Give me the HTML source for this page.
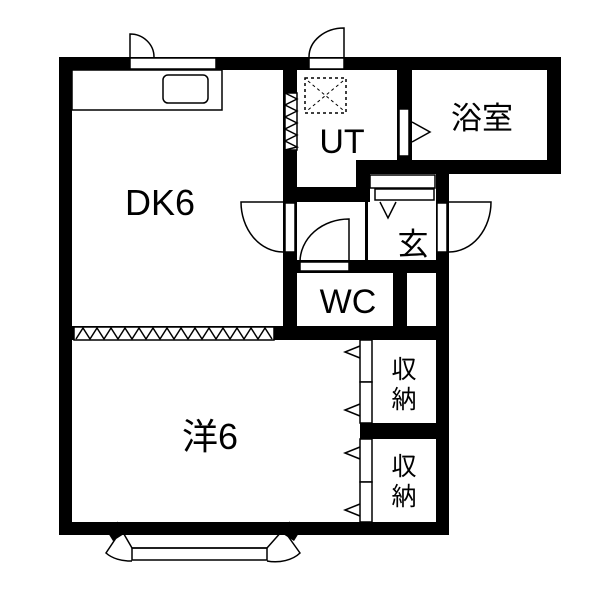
<!DOCTYPE html>
<html><head><meta charset="utf-8"><style>
html,body{margin:0;padding:0;background:#fff;}
svg{display:block;}
text{font-family:"Liberation Sans","Noto Sans CJK JP",sans-serif;fill:#000;}
</style></head><body>
<svg width="600" height="600" viewBox="0 0 600 600" xmlns="http://www.w3.org/2000/svg">
<rect width="600" height="600" fill="#fff"/>
<g fill="#000">
<rect x="59" y="57" width="502" height="13"/>
<rect x="59" y="57" width="13" height="478"/>
<rect x="59" y="522" width="390" height="13"/>
<rect x="436" y="160" width="13" height="375"/>
<rect x="547" y="57" width="14" height="117"/>
<rect x="356" y="160" width="205" height="14"/>
<rect x="356" y="160" width="14" height="42"/>
<rect x="283" y="57" width="14" height="283"/>
<rect x="397" y="57" width="15" height="103"/>
<rect x="283" y="187" width="87" height="15"/>
<rect x="283" y="260" width="166" height="13"/>
<rect x="393" y="260" width="14" height="80"/>
<rect x="72" y="326" width="377" height="14"/>
<rect x="360" y="423" width="89" height="16"/>
<rect x="365" y="202" width="3" height="58"/>
</g>
<g fill="#fff" stroke="#000" stroke-width="1.5">
<rect x="130" y="58" width="86" height="11"/>
<rect x="309" y="58" width="35" height="11"/>
<rect x="399" y="109" width="10" height="47"/>
<rect x="285" y="203" width="10" height="49"/>
<rect x="437" y="203" width="10" height="49"/>
<rect x="300" y="262" width="49" height="9"/>
<rect x="370" y="175" width="65" height="13"/>
<rect x="375" y="189" width="59" height="11"/>
<rect x="72" y="70" width="150" height="40"/>
<rect x="163" y="75" width="45" height="28" rx="5"/>
<rect x="360" y="340" width="12" height="42"/>
<rect x="360" y="382" width="12" height="41"/>
<rect x="360" y="439" width="12" height="43"/>
<rect x="360" y="482" width="12" height="40"/>
<rect x="285" y="93" width="12" height="57"/>
<rect x="74" y="327" width="200" height="13"/>
</g>
<g fill="none" stroke="#000" stroke-width="1.5">
<path d="M130 57 V34 A24 23 0 0 1 154 57"/>
<path d="M344 57 V28 A35 29 0 0 0 309 57"/>
<path d="M283 202 H241 A42 50 0 0 0 283 252"/>
<path d="M449 202 H491 A42 50 0 0 1 449 252"/>
<path d="M349 262 V219 A49 43 0 0 0 300 262"/>
<rect x="305" y="78" width="41" height="35" stroke-dasharray="3,3"/>
<path d="M308 81 L343 110 M343 81 L308 110" stroke-width="1" stroke-dasharray="3,3"/>
<path d="M412 122 L430 132 L412 142"/>
<path d="M380 202 L388 218 L396 202"/>
<path d="M360 346 L345 352 L360 358"/>
<path d="M360 404 L345 410 L360 416"/>
<path d="M360 447 L345 453 L360 459"/>
<path d="M360 504 L345 510 L360 516"/>
<path d="M285 93 L297 99 L285 105 L297 111 L285 117 L297 123 L285 129 L297 135 L285 141 L297 147 L285 150"/>
<path d="M76 339 L83 328 L90 339 L97 328 L104 339 L111 328 L118 339 L125 328 L132 339 L139 328 L146 339 L153 328 L160 339 L167 328 L174 339 L181 328 L188 339 L195 328 L202 339 L209 328 L216 339 L223 328 L230 339 L237 328 L244 339 L251 328 L258 339 L265 328 L272 339"/>
<path d="M117 522 L132 548 H267 L290 522"/>
<rect x="132" y="548" width="135" height="12"/>
<path d="M120 532 L106 553 A30 20 0 0 0 132 561"/>
<path d="M285 532 L300 553 A30 20 0 0 1 267 561"/>
</g>
<g fill="#000">
<path d="M117 522 L124 534 L113 541 L108 533 Z"/>
<path d="M290 522 L283 534 L294 541 L299 533 Z"/>
</g>
<text x="160" y="215" font-size="36" text-anchor="middle">DK6</text>
<text x="342" y="153" font-size="34" text-anchor="middle">UT</text>
<text x="482" y="129" font-size="31" text-anchor="middle">浴室</text>
<text x="413" y="255" font-size="31" text-anchor="middle">玄</text>
<text x="348" y="313" font-size="34" text-anchor="middle">WC</text>
<text x="210" y="449" font-size="36" text-anchor="middle">洋6</text>
<text x="404" y="378" font-size="25" text-anchor="middle">収</text>
<text x="404" y="408" font-size="25" text-anchor="middle">納</text>
<text x="404" y="475" font-size="25" text-anchor="middle">収</text>
<text x="404" y="505" font-size="25" text-anchor="middle">納</text>
</svg>
</body></html>
